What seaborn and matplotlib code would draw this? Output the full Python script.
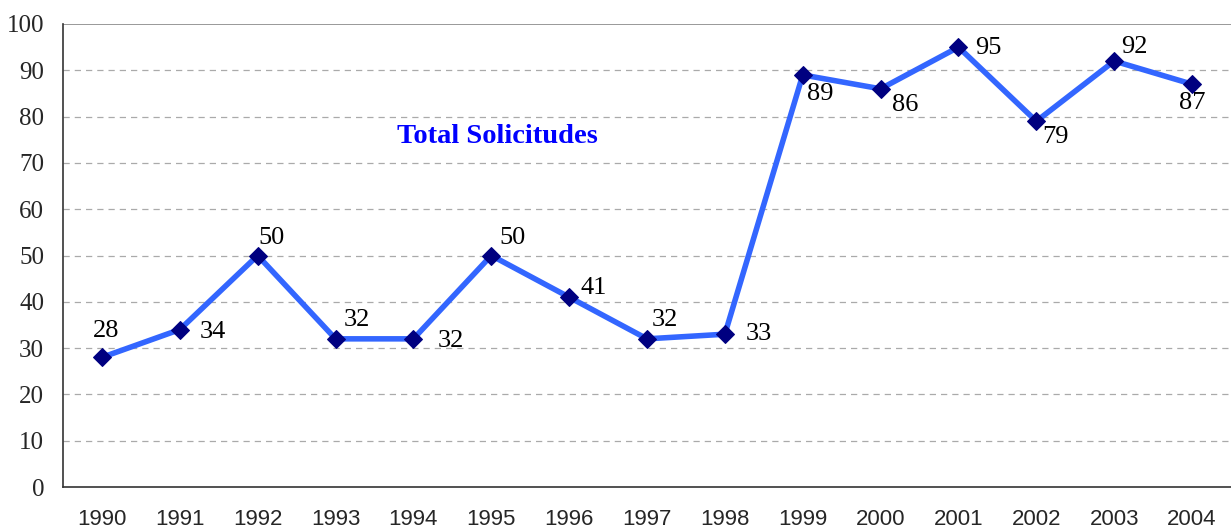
import numpy as np
import pandas as pd
import matplotlib
matplotlib.use("Agg")
import matplotlib.pyplot as plt
import seaborn as sns

years = ["1990", "1991", "1992", "1993", "1994", "1995", "1996", "1997",
         "1998", "1999", "2000", "2001", "2002", "2003", "2004"]
solicitudes = [28, 34, 50, 32, 32, 50, 41, 32, 33, 89, 86, 95, 79, 92, 87]

# label offsets in pixels (dx, dy)
label_offsets = [(4, 26), (33, -2), (14, 18), (21, 19), (37, -2), (21, 18),
                 (25, 9), (18, 19), (34, 0), (18, -19), (25, -16), (30, -1),
                 (19, -16), (20, 14), (0, -19)]

sns.set_style("white")
plt.rcParams["font.family"] = ["Liberation Serif", "DejaVu Serif"]

fig = plt.figure(figsize=(12.31, 5.31), dpi=100)
ax = fig.add_axes([63 / 1231, 44 / 531, 1168 / 1231, 463 / 531])

df = pd.DataFrame({"pos": np.arange(len(years)), "value": solicitudes})
sns.lineplot(data=df, x="pos", y="value", ax=ax, color="#3366FF", linewidth=4,
             marker="D", markersize=9.5, markerfacecolor="#000080",
             markeredgecolor="#000080", zorder=3)

for i, (v, off) in enumerate(zip(solicitudes, label_offsets)):
    ax.annotate(str(v), (i, v), xytext=off, textcoords="offset pixels",
                ha="center", va="center", fontsize=19, color="black")

ax.text(5.08, 75.6, "Total Solicitudes", color="#0000FF", fontsize=20.5,
        fontweight="bold", ha="center", va="center")

step = 78.5
ax.set_xlim(-0.5, -0.5 + 1168 / step)
ax.set_ylim(0, 100)

ax.set_xticks(np.arange(len(years)))
ax.set_xticklabels(years, fontfamily="Liberation Sans", fontsize=16)
ax.set_xticks(np.arange(-0.5, len(years), 1.0), minor=True)
ax.tick_params(axis="x", which="major", length=0, pad=16)
ax.tick_params(axis="x", which="minor", length=6, width=1, direction="out",
               color="#333333")

ax.set_yticks(np.arange(0, 101, 10))
ax.tick_params(axis="y", length=5.5, width=1, direction="out", color="#333333",
               labelsize=18, pad=8)

for y in range(10, 100, 10):
    ax.axhline(y, color="#aaaaaa", linestyle=(0, (5, 4)), linewidth=0.9, zorder=0)
ax.axhline(100, color="#888888", linewidth=1.2, zorder=0)

ax.set_xlabel("")
ax.set_ylabel("")
for side in ["top", "right"]:
    ax.spines[side].set_visible(False)
for side in ["left", "bottom"]:
    ax.spines[side].set_color("#333333")
    ax.spines[side].set_linewidth(1.2)

fig.savefig("out.png", dpi=100)
